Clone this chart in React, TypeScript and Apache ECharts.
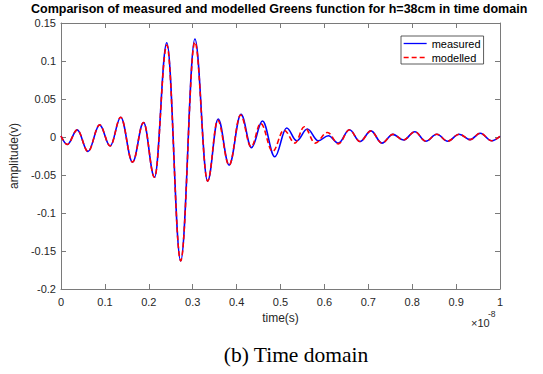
import React, { useEffect, useRef } from "react";
import * as echarts from "echarts";

const TITLE = "Comparison of measured and modelled Greens function for h=38cm in time domain";
const X_LABEL = "time(s)";
const Y_LABEL = "amplitude(v)";
const CAPTION = "(b) Time domain";
const X_EXPONENT_BASE = "×10";
const X_EXPONENT = "-8";
const SERIES_NAMES = ["measured", "modelled"];

// time in units of 1e-8 s (extrema)
const measuredTime = [0, 0.0144, 0.037, 0.0615, 0.088, 0.112, 0.136, 0.163, 0.188, 0.213, 0.241, 0.2726, 0.305, 0.334, 0.358, 0.383, 0.41, 0.434, 0.459, 0.487, 0.514, 0.537, 0.561, 0.586, 0.609, 0.632, 0.657, 0.681, 0.706, 0.731, 0.756, 0.78, 0.806, 0.831, 0.856, 0.881, 0.907, 0.932, 0.955, 0.981, 1.0];
const measuredAmp = [0.0013, -0.0098, 0.0094, -0.019, 0.016, -0.0118, 0.026, -0.033, 0.019, -0.053, 0.124, -0.163, 0.129, -0.058, 0.0237, -0.037, 0.03, -0.014, 0.021, -0.026, 0.0118, -0.005, 0.0105, -0.005, 0.0017, -0.008, 0.0095, -0.006, 0.008, -0.008, 0.0035, -0.004, 0.007, -0.0055, 0.0037, -0.0055, 0.0037, -0.0035, 0.005, -0.005, 0.001];

const modelledTime = [0, 0.0144, 0.037, 0.0615, 0.088, 0.112, 0.136, 0.163, 0.188, 0.213, 0.241, 0.2726, 0.305, 0.334, 0.357, 0.383, 0.409, 0.433, 0.455, 0.482, 0.508, 0.533, 0.554, 0.579, 0.607, 0.632, 0.657, 0.681, 0.706, 0.731, 0.756, 0.78, 0.806, 0.831, 0.856, 0.881, 0.907, 0.932, 0.955, 0.981, 1.0];
const modelledAmp = [0.0013, -0.0098, 0.0094, -0.019, 0.016, -0.0118, 0.026, -0.033, 0.019, -0.053, 0.121, -0.163, 0.125, -0.058, 0.022, -0.037, 0.029, -0.013, 0.018, -0.019, 0.009, -0.008, 0.0135, -0.008, 0.006, -0.009, 0.0095, -0.006, 0.008, -0.008, 0.0035, -0.004, 0.007, -0.0055, 0.0037, -0.0055, 0.0037, -0.0035, 0.005, -0.005, 0.001];

const SANS = "'Liberation Sans', Arial, Helvetica, sans-serif";
const SERIF = "'Liberation Serif', 'Times New Roman', serif";
const AXIS_COLOR = "#7a7a7a";
const TEXT_COLOR = "#262626";

const fmt = (v: number) => String(parseFloat(v.toFixed(2)));

export default function App() {
  const ref = useRef<HTMLDivElement>(null);
  useEffect(() => {
    if (!ref.current) return;
    const chart = echarts.init(ref.current, null, { renderer: "svg" });
    const axisLine = { show: true, onZero: false, lineStyle: { color: AXIS_COLOR, width: 1 } };
    const axisTick = { show: true, inside: true, length: 5, lineStyle: { color: AXIS_COLOR, width: 1 } };
    chart.setOption({
      animation: false,
      backgroundColor: "#ffffff",
      title: {
        text: TITLE,
        left: 31,
        top: 2,
        padding: 0,
        textStyle: { fontFamily: SANS, fontSize: 12.5, fontWeight: "bold", color: "#000" },
      },
      grid: { left: 61, right: 43, top: 23, bottom: 85 },
      legend: {
        orient: "vertical",
        left: 401,
        top: 36,
        itemWidth: 23,
        itemHeight: 11,
        itemGap: 3,
        padding: [2, 3, 1, 2],
        borderColor: "#333",
        borderWidth: 0.8,
        backgroundColor: "#fff",
        itemStyle: { opacity: 0 },
        lineStyle: { width: 1.3 },
        textStyle: { fontFamily: SANS, fontSize: 11, color: "#000" },
        data: SERIES_NAMES,
      },
      xAxis: [
        {
          type: "value",
          min: 0,
          max: 1,
          interval: 0.1,
          position: "bottom",
          axisLine,
          axisTick,
          splitLine: { show: false },
          axisLabel: { color: TEXT_COLOR, fontFamily: SANS, fontSize: 11, margin: 7, formatter: fmt },
          name: X_LABEL,
          nameLocation: "middle",
          nameGap: 21,
          nameTextStyle: { color: TEXT_COLOR, fontFamily: SANS, fontSize: 12 },
        },
        {
          type: "value",
          min: 0,
          max: 1,
          interval: 0.1,
          position: "top",
          axisLine,
          axisTick,
          splitLine: { show: false },
          axisLabel: { show: false },
        },
      ],
      yAxis: [
        {
          type: "value",
          min: -0.2,
          max: 0.15,
          interval: 0.05,
          position: "left",
          axisLine,
          axisTick,
          splitLine: { show: false },
          axisLabel: { color: TEXT_COLOR, fontFamily: SANS, fontSize: 11, margin: 5, formatter: fmt },
          name: Y_LABEL,
          nameLocation: "middle",
          nameGap: 37,
          nameTextStyle: { color: TEXT_COLOR, fontFamily: SANS, fontSize: 12 },
        },
        {
          type: "value",
          min: -0.2,
          max: 0.15,
          interval: 0.05,
          position: "right",
          axisLine,
          axisTick,
          splitLine: { show: false },
          axisLabel: { show: false },
        },
      ],
      series: [
        {
          type: "line",
          name: SERIES_NAMES[0],
          data: measuredTime.map((t, i) => [t, measuredAmp[i]]),
          smooth: 0.38,
          smoothMonotone: "x",
          symbol: "none",
          lineStyle: { color: "#0000ff", width: 1.6 },
          itemStyle: { color: "#0000ff" },
        },
        {
          type: "line",
          name: SERIES_NAMES[1],
          data: modelledTime.map((t, i) => [t, modelledAmp[i]]),
          smooth: 0.38,
          smoothMonotone: "x",
          symbol: "none",
          lineStyle: { color: "#ff0000", width: 1.6, type: [5, 3] },
          itemStyle: { color: "#ff0000" },
        },
      ],
      graphic: [
        {
          type: "text",
          x: 471,
          y: 323,
          style: { text: X_EXPONENT_BASE, fontFamily: SANS, fontSize: 11, fill: TEXT_COLOR, textVerticalAlign: "middle" },
        },
        {
          type: "text",
          x: 488,
          y: 314,
          style: { text: X_EXPONENT, fontFamily: SANS, fontSize: 8.5, fill: TEXT_COLOR, textVerticalAlign: "middle" },
        },
        {
          type: "text",
          x: 296,
          y: 355,
          style: { text: CAPTION, fontFamily: SERIF, fontSize: 21.5, fill: "#000", textAlign: "center", textVerticalAlign: "middle" },
        },
      ],
    });
    return () => chart.dispose();
  }, []);
  return (
    <div
      ref={ref}
      style={{ position: "absolute", left: 0, top: 0, width: 543, height: 374, background: "#fff" }}
    />
  );
}
